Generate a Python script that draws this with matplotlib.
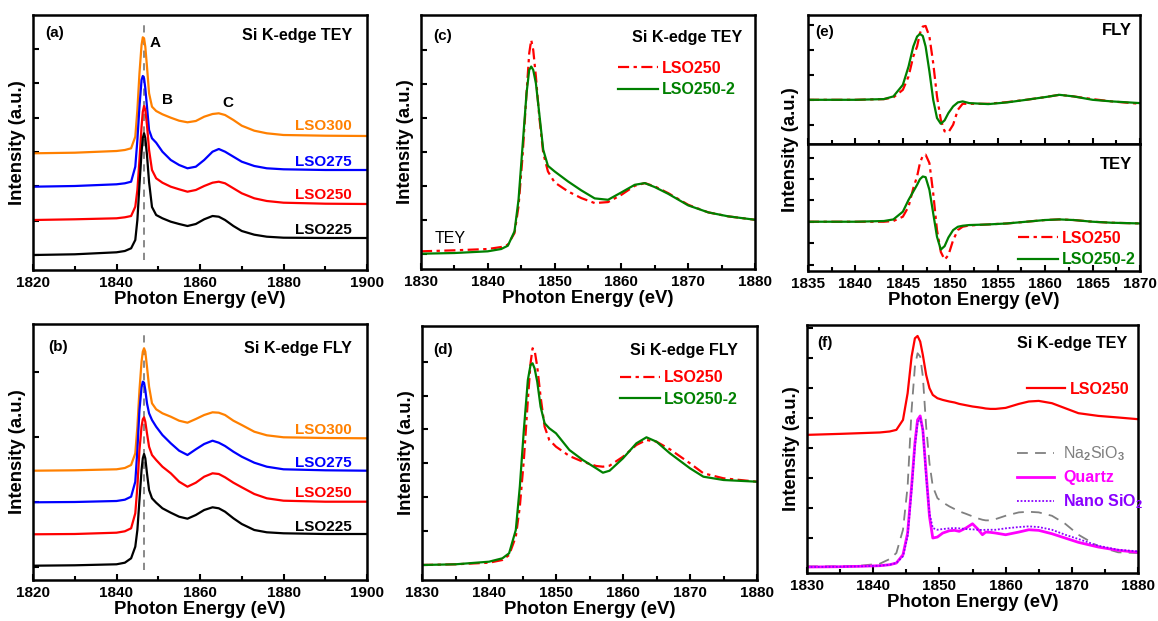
import matplotlib
matplotlib.use("Agg")
import matplotlib.pyplot as plt
from matplotlib.ticker import MultipleLocator, NullFormatter
from matplotlib.lines import Line2D

plt.rcParams["font.family"] = ["Liberation Sans", "DejaVu Sans"]
plt.rcParams["font.weight"] = "bold"
plt.rcParams["mathtext.fontset"] = "custom"
plt.rcParams["mathtext.rm"] = "Liberation Sans"
plt.rcParams["mathtext.it"] = "Liberation Sans:italic"
plt.rcParams["mathtext.bf"] = "Liberation Sans:bold"

# ---------------- (a) Si K-edge TEY, stacked ----------------
energy_ab = [1820, 1830, 1840, 1842, 1843.5, 1844.5, 1845.0, 1845.5, 1846.0, 1846.3,
             1846.6, 1846.9, 1847.3, 1847.8, 1848.5, 1849.5, 1851, 1853, 1855, 1857,
             1859, 1861, 1863, 1864.5, 1866, 1868, 1870, 1873, 1876, 1880, 1890, 1900]
tey_lso225 = [15, 15.7, 17.7, 19, 21.7, 30, 50, 85, 118, 132, 136.7, 132, 115, 88, 63,
              55, 51.7, 48.3, 46, 44, 46, 50.7, 54, 53.3, 50, 44, 39, 35.3, 33.3, 32.3, 32, 32]
tey_lso250 = [50, 50.7, 51.7, 52.7, 54, 63.3, 80, 110, 143.3, 158.3, 164, 160, 145, 120,
              100, 91.7, 87.3, 83.3, 80.7, 78.3, 80, 84, 87.3, 88.3, 86.7, 81.7, 76.7,
              71.7, 69, 67.3, 66.3, 66]
tey_lso275 = [83.3, 84, 85.7, 86.7, 88.3, 103.3, 130, 163.3, 190, 194, 191.7, 181.7, 163.3,
              140, 131.7, 127.3, 118.3, 110, 105, 101.7, 103.3, 110, 118.3, 121, 118.3,
              113.3, 108.3, 104, 101.7, 100.7, 100, 100]
tey_lso300 = [116.7, 117.3, 119, 120, 121.7, 133.3, 160, 196.7, 225, 232.7, 231.7, 223.3,
              203.3, 176.7, 163.3, 159, 155.7, 152.3, 149.3, 147.7, 149, 153.3, 156, 156.7,
              155, 150, 144.3, 139.3, 136.7, 135, 134.3, 134]

# ---------------- (b) Si K-edge FLY, stacked ----------------
fly_lso225 = [14.3, 14.7, 15.7, 17.3, 21.7, 33.3, 50, 80, 110, 121.7, 126, 121.7, 106.7,
              90, 81.7, 77.3, 71.7, 67.3, 63.3, 61.3, 65, 70, 72.7, 71.7, 68.3, 61.7, 56,
              50, 47.7, 46.7, 46, 46]
fly_lso250 = [45.7, 46, 47.3, 48.7, 51.7, 66.7, 93.3, 130, 153.3, 160.7, 162.7, 158.3,
              146.7, 133.3, 125, 120, 113.3, 106.7, 98.3, 93.3, 97.3, 103.3, 106.7, 106,
              102.7, 97.3, 92.7, 86, 81.7, 79.3, 78.3, 78.3]
fly_lso275 = [77.7, 78, 79, 80.3, 83.3, 98.3, 130, 170, 192.7, 198.3, 197.3, 190, 176.7,
              166.7, 160, 153.3, 145, 136.7, 129.3, 125, 130.7, 136, 139.3, 137.3, 134,
              128.3, 123.3, 117.3, 113.3, 110.7, 109.7, 109.3]
fly_lso300 = [109.3, 109.7, 110.7, 112, 115, 126.7, 153.3, 190, 218.3, 228.3, 231.7, 228.3,
              213.3, 193.3, 176.7, 170.7, 166.7, 163.3, 159.3, 157.3, 161, 165, 167.7,
              167.3, 165, 159.3, 155, 148.3, 144.7, 142.7, 142, 141.7]
stack_labels = ["LSO300", "LSO275", "LSO250", "LSO225"]
peak_a_energy = 1846.5

# ---------------- (c) TEY, LSO250 vs LSO250-2 ----------------
energy_c = [1830, 1835, 1840, 1842, 1843, 1844, 1844.6, 1845.2, 1845.8, 1846.2, 1846.5,
            1846.8, 1847.2, 1847.7, 1848.3, 1849, 1850, 1852, 1854, 1856, 1858, 1860,
            1862, 1863.5, 1865, 1867, 1870, 1873, 1876, 1880]
c_lso250 = [17.7, 18.7, 20, 22, 24.3, 36, 62.7, 112.7, 176, 216, 229.3, 219.3, 192.7,
            152.7, 116, 97.7, 86.7, 77.7, 71, 66, 67, 74.3, 83.3, 86, 82.7, 76, 64.3,
            56.7, 52.7, 49.3]
c_lso250_2 = [15.3, 16, 17.7, 20, 23.3, 37.7, 69.3, 122.7, 176, 199.3, 202.7, 199.3, 186,
              156, 119.3, 103.3, 97.7, 87.7, 78.7, 70.7, 69.3, 76.7, 84.3, 86, 82, 75.3,
              63.7, 56.7, 52.7, 49.3]

# ---------------- (d) FLY, LSO250 vs LSO250-2 ----------------
energy_d = [1830, 1835, 1840, 1842, 1843, 1844, 1844.6, 1845.2, 1845.8, 1846.2, 1846.5,
            1846.8, 1847.2, 1847.7, 1848.3, 1849, 1850, 1852, 1854, 1856, 1857, 1858,
            1860, 1862, 1863.5, 1865, 1867, 1870, 1872, 1875, 1880]
d_lso250 = [15, 15.7, 17.3, 20, 25, 43.3, 73.3, 120, 180, 216.7, 231.7, 230, 213.3, 183.3,
            153.3, 140, 133.3, 124, 118.3, 114, 113.3, 114.3, 123.3, 135, 140, 138.3,
            130.7, 116.7, 106.7, 101.7, 98.3]
d_lso250_2 = [15, 15.7, 18.3, 21.7, 26.7, 50, 93.3, 150, 200, 215, 216.7, 211.7, 198.3,
              173.3, 156.7, 151.7, 146.7, 130, 120, 111.7, 107.3, 109.3, 121.7, 136.7,
              142.7, 138.3, 126.7, 111.7, 103.3, 100, 98.3]

# ---------------- (e) derivative spectra ----------------
energy_e = [1835, 1840, 1843, 1844, 1845, 1845.6, 1846.1, 1846.5, 1846.8, 1847.1, 1847.4,
            1847.8, 1848.2, 1848.6, 1849.0, 1849.4, 1849.8, 1850.3, 1850.8, 1851.3, 1852,
            1854, 1856, 1858, 1860, 1861.5, 1863, 1865, 1867, 1870]
e_fly_lso250 = [44.3, 44.3, 45, 46.7, 54.3, 67.7, 87.7, 97.7, 111, 117.7, 118.3, 107.7, 81,
                47.7, 24.3, 12.7, 11.7, 19.3, 34.3, 40.3, 40.3, 40.3, 42, 44.3, 47, 49.3,
                47.7, 45, 42.7, 40.3]
e_fly_lso250_2 = [44.3, 44.3, 45, 47.7, 59.3, 77.7, 97.7, 107.7, 110.3, 108.3, 97.7, 72.7,
                  44.3, 26, 20.3, 23.7, 31, 37.7, 41.7, 42.7, 41, 40, 41.7, 44.3, 47, 49.3,
                  47.7, 44.3, 42.7, 41]
e_tey_lso250 = [49, 49, 49, 49.7, 54, 64, 82.3, 94, 107.3, 114.7, 115.7, 107.3, 77.3, 40.7,
                19, 11.3, 15.7, 30.7, 40.7, 44, 45.3, 46.3, 47.3, 49, 50.7, 51.3, 50.7, 49,
                48, 47.3]
e_tey_lso250_2 = [49, 49, 49.7, 51.3, 59, 70.7, 79, 85.7, 91.3, 94, 93.3, 80.7, 57.3, 34,
                  21.3, 24.7, 33.3, 40.7, 44, 45, 45.7, 46.3, 47.3, 49, 50.7, 51.3, 50.7,
                  49, 48, 47.3]

# ---------------- (f) references ----------------
energy_f = [1830, 1835, 1838, 1841, 1842.5, 1843.5, 1844.5, 1845.2, 1845.8, 1846.3, 1846.7,
            1847.1, 1847.5, 1848, 1848.5, 1849, 1849.7, 1850.5, 1851.5, 1852.3, 1853, 1854,
            1855, 1855.8, 1856.5, 1857, 1857.7, 1858.5, 1860, 1862, 1863.5, 1865, 1867,
            1869, 1871, 1874, 1877, 1880]
f_lso250 = [138.3, 139.3, 140, 140.7, 141.7, 143.3, 153.3, 180, 216.7, 235, 237.3, 231.7,
            218.3, 198.3, 185, 178.3, 175, 173.3, 171.7, 170.7, 169.3, 168, 166.7, 166,
            165.3, 164.7, 164.3, 164.3, 165.3, 169.3, 171.7, 172.3, 170, 165, 160, 157.3,
            155.7, 154]
f_na2sio3 = [6.7, 6.7, 7.3, 9.3, 14, 20, 43.3, 86.7, 163.3, 206.7, 220, 216.7, 196.7,
             146.7, 110, 86.7, 75, 70.7, 66.7, 64, 61.7, 59.3, 56.7, 54.7, 53.3, 52.7, 52.7,
             54, 57.3, 60.7, 61.3, 60.7, 57.3, 49.3, 38.3, 26.7, 20.7, 20]
f_quartz = [6, 6.3, 6.7, 7.3, 8.3, 10, 18.3, 40, 86.7, 130, 153.3, 157.3, 143.3, 100,
            56.7, 35, 36, 40, 42.3, 42.7, 41.7, 45, 49.3, 44, 38.3, 41, 40.7, 40, 38.3, 41,
            43.3, 42.7, 39.3, 35, 30.7, 26, 22.7, 20.7]
f_nano_sio2 = [6, 6.3, 6.7, 7.3, 8.3, 10, 16.7, 36.7, 83.3, 126.7, 150, 155, 143.3, 96.7,
               60, 45, 43.3, 44, 44.7, 45, 44.7, 44, 43.7, 43.3, 43, 43.3, 43.3, 43.3, 44.7,
               46, 46.7, 46, 43.3, 38.3, 34, 27.3, 23.3, 21.7]

# ---------------- styling ----------------
W, H = 1158, 621
RED, BLUE, ORANGE, BLACK = "#FF0000", "#0000FF", "#FF8000", "#000000"
GREEN, MAGENTA, PURPLE, GRAY = "#008000", "#FF00FF", "#8A00FF", "#808080"
DASHDOT = (0, (5, 2, 1.5, 2))
LW = 1.6
FS_TICK, FS_LABEL, FS_TEXT = 11, 13.3, 11

fig = plt.figure(figsize=(W / 100, H / 100), dpi=100)


def box(left, top, right, bottom):
    return fig.add_axes([left / W, 1 - bottom / H, (right - left) / W, (bottom - top) / H])


def style(ax, xlim, major, minor, ylim, ytick0, ystep, xlabels=True):
    ax.set_xlim(*xlim)
    ax.set_ylim(*ylim)
    ax.xaxis.set_major_locator(MultipleLocator(major))
    ax.xaxis.set_minor_locator(MultipleLocator(minor))
    ticks = []
    t = ytick0
    while t < ylim[1] - 2:
        ticks.append(t)
        t += ystep
    ax.set_yticks(ticks)
    ax.yaxis.set_major_formatter(NullFormatter())
    ax.tick_params(axis="both", which="both", direction="in", top=False, right=False,
                   width=1.5, labelsize=FS_TICK)
    ax.tick_params(axis="both", which="major", length=4)
    ax.tick_params(axis="x", which="minor", length=3)
    ax.tick_params(axis="x", pad=4)
    if not xlabels:
        ax.xaxis.set_major_formatter(NullFormatter())
    for lbl in ax.get_xticklabels():
        lbl.set_fontweight("bold")
    for s in ax.spines.values():
        s.set_linewidth(1.8)


def labels(ax, ylabel=True):
    ax.set_xlabel("Photon Energy (eV)", fontsize=FS_LABEL, fontweight="bold", labelpad=1)
    if ylabel:
        ax.set_ylabel("Intensity (a.u.)", fontsize=FS_LABEL, fontweight="bold", labelpad=1.5)


def txt(ax, x, y, s, ha="left", color="black", size=FS_TEXT, weight="bold"):
    ax.text(x, y, s, transform=ax.transAxes, ha=ha, va="center", color=color,
            fontsize=size, fontweight=weight)


def two_legend(ax, x, y):
    handles = [Line2D([], [], color=RED, lw=LW, linestyle=DASHDOT),
               Line2D([], [], color=GREEN, lw=LW)]
    ax.legend(handles, ["LSO250", "LSO250-2"], loc="upper left", bbox_to_anchor=(x, y),
              frameon=False, borderaxespad=0, borderpad=0, handlelength=2.5,
              handletextpad=0.25, labelspacing=0.4, labelcolor="linecolor",
              prop={"weight": "bold", "size": 11.5})


stack_colors = [ORANGE, BLUE, RED, BLACK]

# (a)
ax_a = box(33, 15, 367, 270)
ax_a.axvline(peak_a_energy, ymin=0.04, ymax=0.96, color=GRAY, lw=1.3, ls=(0, (4, 3)))
for ys, c in zip([tey_lso300, tey_lso275, tey_lso250, tey_lso225], stack_colors):
    ax_a.plot(energy_ab, ys, color=c, lw=LW)
style(ax_a, (1820, 1900), 20, 10, (0, 255), 15, 34.3)
labels(ax_a)
txt(ax_a, 0.036, 0.93, "(a)")
txt(ax_a, 0.955, 0.92, "Si K-edge TEY", ha="right", size=11.6)
txt(ax_a, 0.365, 0.89, "A", ha="center")
txt(ax_a, 0.404, 0.667, "B", ha="center")
txt(ax_a, 0.584, 0.655, "C", ha="center")
for lab, c, yy in zip(stack_labels, stack_colors, [0.565, 0.424, 0.294, 0.157]):
    txt(ax_a, 0.955, yy, lab, ha="right", color=c)

# (b)
ax_b = box(33, 324, 367, 580)
ax_b.axvline(peak_a_energy, ymin=0.04, ymax=0.96, color=GRAY, lw=1.3, ls=(0, (4, 3)))
for ys, c in zip([fly_lso300, fly_lso275, fly_lso250, fly_lso225], stack_colors):
    ax_b.plot(energy_ab, ys, color=c, lw=LW)
style(ax_b, (1820, 1900), 20, 10, (0, 256), 13.3, 65)
labels(ax_b)
txt(ax_b, 0.045, 0.91, "(b)")
txt(ax_b, 0.955, 0.906, "Si K-edge FLY", ha="right", size=11.6)
for lab, c, yy in zip(stack_labels, stack_colors, [0.586, 0.457, 0.34, 0.207]):
    txt(ax_b, 0.955, yy, lab, ha="right", color=c)

# (c)
ax_c = box(421, 15, 755, 269)
ax_c.plot(energy_c, c_lso250, color=RED, lw=LW, linestyle=DASHDOT)
ax_c.plot(energy_c, c_lso250_2, color=GREEN, lw=LW)
style(ax_c, (1830, 1880), 10, 5, (0, 254.3), 15.3, 34)
labels(ax_c)
txt(ax_c, 0.036, 0.917, "(c)")
txt(ax_c, 0.961, 0.913, "Si K-edge TEY", ha="right", size=11.6)
txt(ax_c, 0.042, 0.122, "TEY", weight="normal", size=11.5)
two_legend(ax_c, 0.59, 0.82)

# (d)
ax_d = box(422, 326, 757, 580)
ax_d.plot(energy_d, d_lso250, color=RED, lw=LW, linestyle=DASHDOT)
ax_d.plot(energy_d, d_lso250_2, color=GREEN, lw=LW)
style(ax_d, (1830, 1880), 10, 5, (0, 254), 15.5, 33.8)
labels(ax_d)
txt(ax_d, 0.033, 0.905, "(d)")
txt(ax_d, 0.943, 0.905, "Si K-edge FLY", ha="right", size=11.6)
two_legend(ax_d, 0.59, 0.825)

# (e)
ax_e1 = box(808, 15, 1140, 144)
ax_e2 = box(808, 144, 1140, 271)
ax_e1.plot(energy_e, e_fly_lso250, color=RED, lw=LW, linestyle=DASHDOT)
ax_e1.plot(energy_e, e_fly_lso250_2, color=GREEN, lw=LW)
ax_e2.plot(energy_e, e_tey_lso250, color=RED, lw=LW, linestyle=DASHDOT)
ax_e2.plot(energy_e, e_tey_lso250_2, color=GREEN, lw=LW)
style(ax_e1, (1835, 1870), 5, 2.5, (0, 129.3), 19.3, 25, xlabels=False)
style(ax_e2, (1835, 1870), 5, 2.5, (0, 126.3), 6.3, 21.3)
ax_e2.set_xlabel("Photon Energy (eV)", fontsize=FS_LABEL, fontweight="bold", labelpad=1)
fig.text(791 / W, 1 - 150 / H, "Intensity (a.u.)", rotation=90, ha="center", va="center",
         fontsize=FS_LABEL, fontweight="bold")
txt(ax_e1, 0.021, 0.868, "(e)")
txt(ax_e1, 0.976, 0.88, "FLY", ha="right", size=12)
txt(ax_e2, 0.976, 0.835, "TEY", ha="right", size=12)
two_legend(ax_e2, 0.633, 0.315)

# (f)
ax_f = box(807, 325, 1138, 573)
l_lso, = ax_f.plot(energy_f, f_lso250, color=RED, lw=LW)
l_na, = ax_f.plot(energy_f, f_na2sio3, color=GRAY, lw=1.3, linestyle=(0, (6, 4)))
l_qz, = ax_f.plot(energy_f, f_quartz, color=MAGENTA, lw=2.0)
l_nano, = ax_f.plot(energy_f, f_nano_sio2, color=PURPLE, lw=1.3, linestyle=(0, (1, 1)))
style(ax_f, (1830, 1880), 10, 5, (0, 248.3), 35, 30)
labels(ax_f)
txt(ax_f, 0.03, 0.927, "(f)")
txt(ax_f, 0.967, 0.927, "Si K-edge TEY", ha="right", size=11.6)
leg1 = ax_f.legend([l_lso], ["LSO250"], loc="upper left", bbox_to_anchor=(0.665, 0.772),
                   frameon=False, borderaxespad=0, borderpad=0, handlelength=2.4,
                   handletextpad=0.25, labelcolor="linecolor",
                   prop={"weight": "bold", "size": 11.5})
ax_f.add_artist(leg1)
leg2 = ax_f.legend([l_na, l_qz, l_nano],
                   [r"Na$_2$SiO$_3$", "Quartz", r"Nano SiO$_2$"],
                   loc="upper left", bbox_to_anchor=(0.634, 0.518), frameon=False,
                   borderaxespad=0, borderpad=0, handlelength=2.3, handletextpad=0.6,
                   labelspacing=0.45, labelcolor="linecolor",
                   prop={"weight": "bold", "size": 11.5})
leg2.get_texts()[0].set_fontweight("normal")

fig.savefig("out.png", dpi=100)
